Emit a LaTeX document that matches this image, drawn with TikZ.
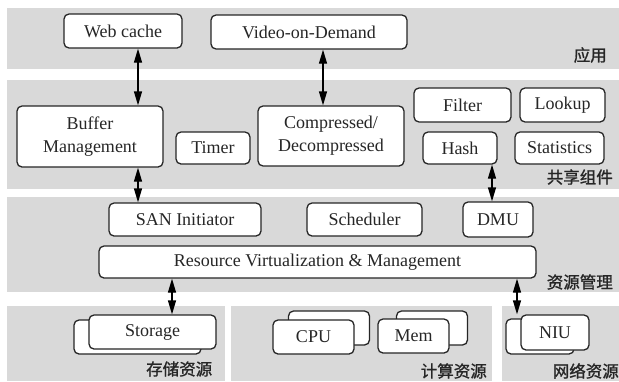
\documentclass[tikz,border=0pt]{standalone}
\usepackage{fontspec}
\setmainfont{Liberation Serif}
\newfontfamily\cjk[FakeBold=1.2]{Noto Sans CJK SC}
\usetikzlibrary{arrows.meta}

\begin{document}
\begin{tikzpicture}[x=1pt,y=-1pt,font=\fontsize{18}{23}\selectfont,
  >={Triangle[length=14pt,width=8pt]},
  band/.style={fill=black!15,draw=none},
  b/.style={draw=black!85,line width=1.3pt,rounded corners=5pt,fill=white,align=center,inner sep=0pt,text=black!85},
  link/.style={<->,line width=1.3pt,draw=black},
  lbl/.style={font=\cjk\fontsize{16.5}{16.5}\selectfont,inner sep=0pt,text=black!85}]
  \useasboundingbox (0,0) rectangle (619,381);
  % layers
  \fill[band] (7,8) rectangle (619,69);
  \fill[band] (7,80) rectangle (619,189);
  \fill[band] (7,197) rectangle (619,292);
  \fill[band] (7,306) rectangle (225,381);
  \fill[band] (231,306) rectangle (492,381);
  \fill[band] (502,306) rectangle (619,381);
  \node[lbl,anchor=east] (lapp) at (607,55) {应用};
  \node[lbl,anchor=east] (lsh) at (613,177) {共享组件};
  \node[lbl,anchor=east] (lrm) at (613,282) {资源管理};
  \node[lbl,anchor=west] (lsto) at (146,369) {存储资源};
  \node[lbl,anchor=east] (lcmp) at (487,371) {计算资源};
  \node[lbl,anchor=east] (lnet) at (619,371) {网络资源};
  % applications
  \node[b,minimum width=118pt,minimum height=34pt] (web) at (123,31) {Web cache};
  \node[b,minimum width=196pt,minimum height=34pt] (vod) at (309,32) {Video-on-Demand};
  % shared components
  \node[b,minimum width=146pt,minimum height=61pt] (buf) at (90,136.5) {Buffer\\Management};
  \node[b,minimum width=74pt,minimum height=32pt] (tim) at (213,148) {Timer};
  \node[b,minimum width=146pt,minimum height=60pt] (comp) at (331,136) {Compressed/\\Decompressed};
  \node[b,minimum width=97pt,minimum height=34pt] (fil) at (462.5,105) {Filter};
  \node[b,minimum width=85pt,minimum height=34pt] (look) at (562.5,105) {Lookup};
  \node[b,minimum width=74pt,minimum height=32pt] (hash) at (460,148) {Hash};
  \node[b,minimum width=89pt,minimum height=32pt] (stat) at (559.5,148) {Statistics};
  % resource management
  \node[b,minimum width=152pt,minimum height=33pt] (san) at (185,219.5) {SAN Initiator};
  \node[b,minimum width=115pt,minimum height=33pt] (sch) at (364.5,219.5) {Scheduler};
  \node[b,minimum width=70pt,minimum height=35pt] (dmu) at (498,219.5) {DMU};
  \node[b,minimum width=437pt,minimum height=32pt] (res) at (317.5,262) {Resource Virtualization \& Management};
  % resources
  \node[b,minimum width=127pt,minimum height=34pt] (stoB) at (137.5,337) {};
  \node[b,minimum width=127pt,minimum height=34pt] (sto) at (152.5,332) {Storage};
  \node[b,minimum width=81pt,minimum height=34pt] (cpuB) at (329,328) {};
  \node[b,minimum width=81pt,minimum height=34pt] (cpu) at (313.5,337) {CPU};
  \node[b,minimum width=71pt,minimum height=34pt] (memB) at (432,328) {};
  \node[b,minimum width=71pt,minimum height=34pt] (mem) at (413.5,336) {Mem};
  \node[b,minimum width=68pt,minimum height=35pt] (niuB) at (540,336.5) {};
  \node[b,minimum width=68pt,minimum height=35pt] (niu) at (555,332.5) {NIU};
  % links
  \coordinate (x1) at (138,0);
  \coordinate (x2) at (323,0);
  \coordinate (x3) at (492,0);
  \coordinate (x4) at (172,0);
  \coordinate (x5) at (517,0);
  \draw[link] (web.south -| x1) -- (buf.north -| x1);
  \draw[link] (vod.south -| x2) -- (comp.north -| x2);
  \draw[link] (buf.south -| x1) -- (san.north -| x1);
  \draw[link] (hash.south -| x3) -- (dmu.north -| x3);
  \draw[link] (res.south -| x4) -- (sto.north -| x4);
  \draw[link] (res.south -| x5) -- (niu.north -| x5);
\end{tikzpicture}
\end{document}
